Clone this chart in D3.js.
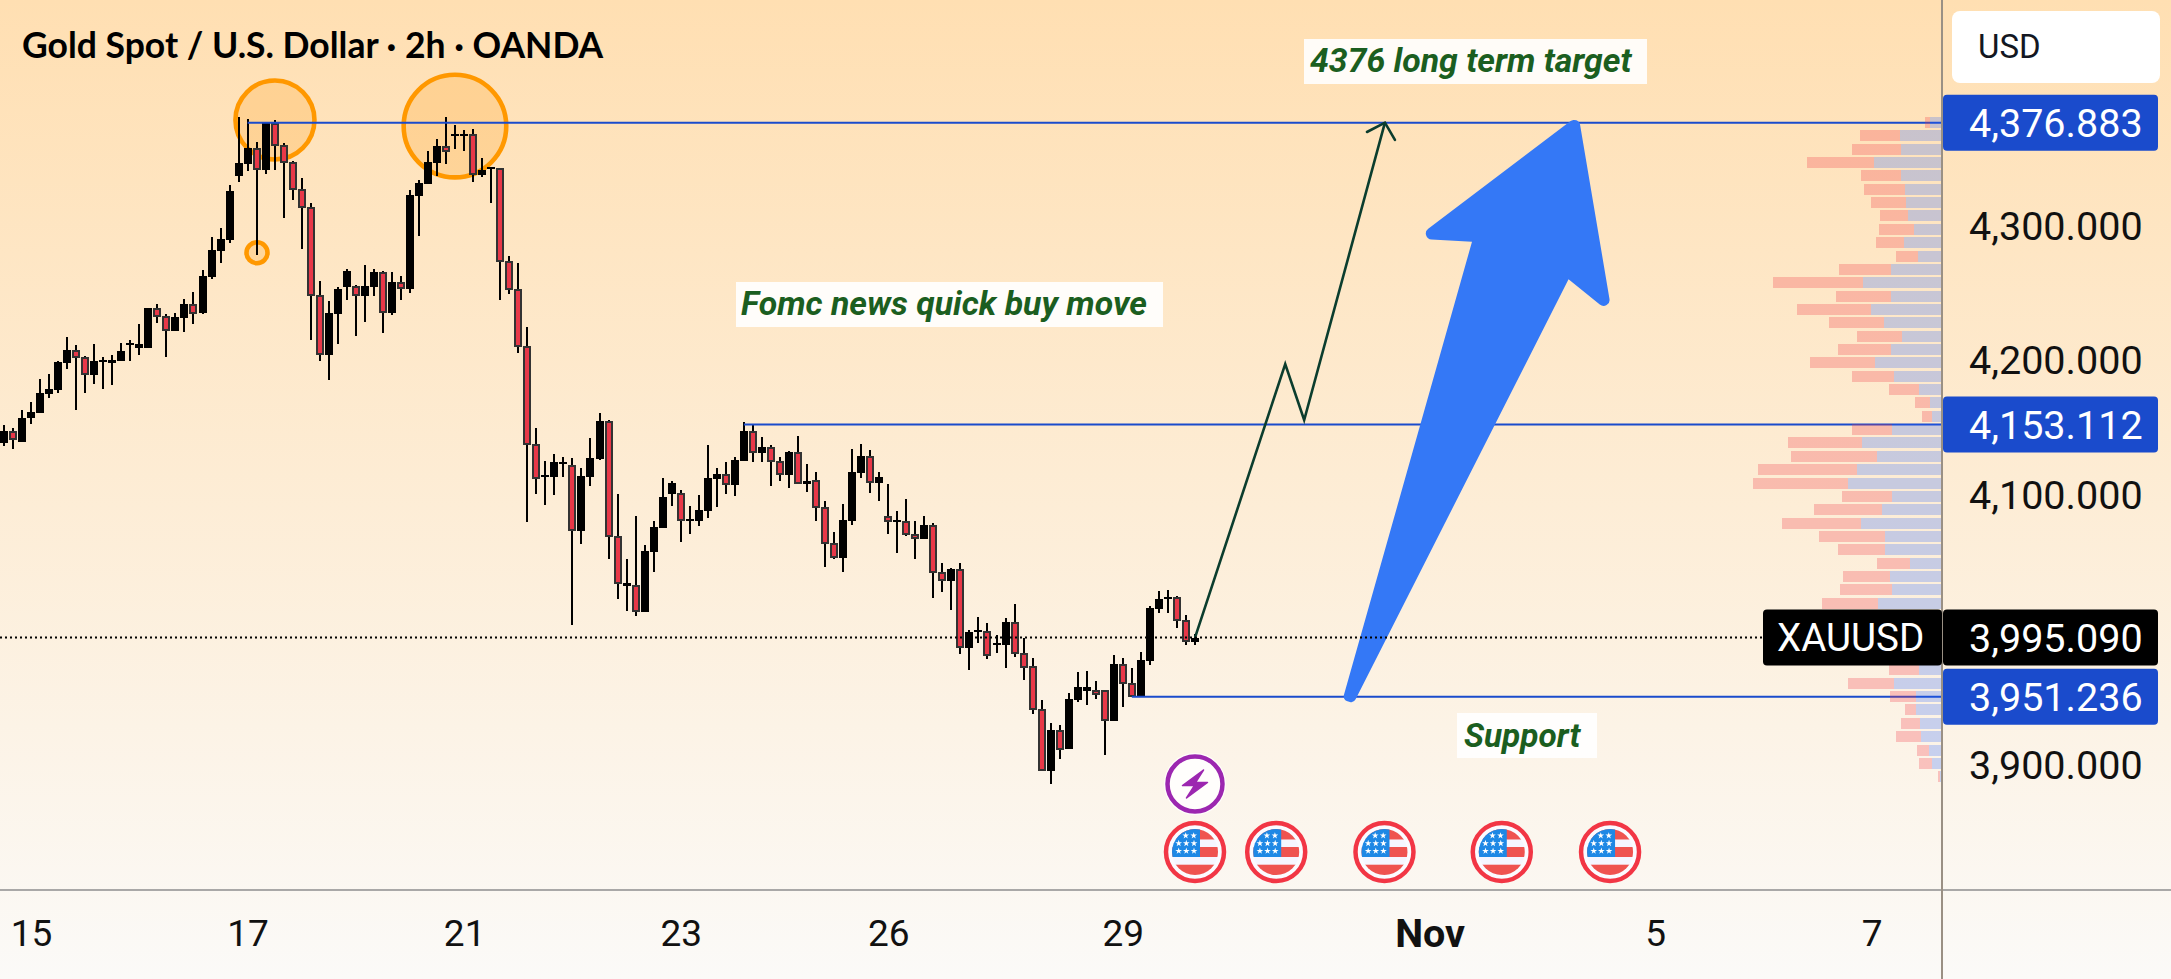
<!DOCTYPE html>
<html>
<head>
<meta charset="utf-8">
<title>XAUUSD 2h</title>
<script src="https://cdn.jsdelivr.net/npm/d3@7"></script>
<style>
    html, body { margin: 0; padding: 0; background: #fbfaf8; overflow: hidden; }
    text { font-family: Roboto, sans-serif; }
</style>
</head>
<body>
<div id="chart"></div>
<script>
// candles
const opens = [
    4139.4,4148.3,4140.1,4157.9,4161.6,4175.7,4178.7,4198.7,4208.3,4203.1,
    4189.8,4199.4,4198.7,4200.2,4212.0,4209.8,4209.8,4239.5,4233.6,4222.4,
    4232.1,4242.5,4235.8,4262.5,4281.7,4289.9,4337.4,4346.3,4358.1,4341.8,
    4376.7,4360.3,4347.8,4327.7,4314.4,4249.1,4204.6,4235.0,4255.1,4255.8,
    4248.4,4255.1,4266.2,4235.8,4258.8,4253.6,4322.5,4331.4,4347.0,4359.6,
    4367.0,4367.4,4368.5,4338.1,4342.5,4343.3,4274.3,4253.6,4211.3,4138.6,
    4114.2,4114.2,4123.8,4123.1,4074.1,4114.2,4127.5,4155.7,4070.4,4033.3,
    4034.1,4014.1,4058.6,4076.4,4101.6,4102.3,4081.5,4081.5,4088.9,4112.7,
    4116.4,4108.2,4126.0,4148.3,4132.0,4136.4,4126.0,4115.6,4132.7,4109.0,
    4111.9,4091.9,4065.2,4054.1,4081.5,4117.1,4129.7,4109.7,4085.3,4080.8,
    4081.5,4071.9,4068.2,4078.6,4043.7,4037.1,4045.9,3987.4,3999.2,4000.0,
    3989.6,3989.6,4006.6,3983.7,3974.0,3942.1,3896.2,3926.6,3912.5,3948.8,
    3955.5,3956.2,3956.2,3933.2,3975.5,3961.4,3951.0,3977.7,4016.3,4023.7,
    4025.2,4008.1,3991.8
];
const closes = [
    4148.3,4141.6,4157.9,4162.4,4176.5,4179.4,4199.4,4208.3,4202.4,4189.8,
    4200.2,4200.9,4200.9,4207.6,4213.5,4212.8,4239.5,4232.8,4222.4,4232.8,
    4242.5,4235.0,4263.2,4282.5,4290.6,4326.2,4347.0,4358.1,4341.8,4376.7,
    4359.6,4347.0,4327.0,4313.6,4248.4,4204.6,4235.8,4253.6,4266.9,4248.4,
    4255.8,4266.2,4235.8,4258.8,4253.6,4323.3,4332.2,4347.8,4359.6,4355.2,
    4368.5,4368.5,4338.1,4341.8,4344.0,4273.6,4252.8,4210.6,4137.9,4112.7,
    4115.6,4125.3,4125.3,4074.1,4114.9,4128.3,4155.7,4069.7,4034.8,4035.6,
    4014.1,4059.3,4077.1,4099.3,4109.7,4081.5,4083.0,4089.7,4113.4,4116.4,
    4108.2,4126.8,4148.3,4132.0,4136.4,4125.3,4115.6,4132.7,4109.0,4111.2,
    4091.2,4064.5,4054.1,4082.3,4117.9,4129.7,4109.7,4114.2,4080.8,4082.3,
    4071.2,4068.2,4078.6,4043.0,4037.1,4045.9,3987.4,3999.2,4000.7,3981.4,
    3991.1,4006.6,3982.9,3972.5,3941.4,3896.2,3926.6,3911.7,3949.6,3958.5,
    3958.5,3952.5,3933.2,3975.5,3960.7,3951.0,3978.5,4017.0,4023.7,4025.2,
    4007.4,3991.8,3995.1
];
const highs = [
    4152.7,4150.5,4163.9,4169.8,4186.8,4190.5,4200.2,4218.0,4212.0,4203.9,
    4212.8,4203.1,4204.6,4213.5,4215.7,4227.6,4239.5,4242.5,4235.0,4235.8,
    4246.2,4251.3,4267.7,4292.1,4298.8,4330.7,4381.1,4379.6,4362.6,4377.4,
    4378.9,4361.8,4348.5,4335.9,4317.3,4259.5,4244.7,4255.1,4268.4,4256.5,
    4271.4,4268.4,4266.9,4266.2,4263.2,4327.0,4334.4,4355.9,4364.8,4381.1,
    4375.2,4371.5,4372.2,4350.7,4344.0,4343.3,4278.0,4272.9,4225.4,4150.5,
    4126.0,4131.2,4129.0,4128.3,4120.8,4143.1,4161.6,4156.4,4101.6,4053.4,
    4085.3,4063.7,4081.5,4113.4,4111.2,4104.5,4092.7,4100.8,4137.9,4120.8,
    4125.3,4129.0,4155.0,4152.7,4143.8,4137.9,4129.0,4133.4,4144.6,4123.8,
    4117.9,4096.4,4073.4,4094.1,4134.9,4138.6,4134.2,4117.9,4109.0,4088.9,
    4097.9,4081.5,4085.3,4080.1,4050.4,4046.7,4050.4,4000.7,4010.4,4005.9,
    3997.0,4009.6,4020.0,3994.8,3980.0,3948.8,3931.8,3930.3,3954.0,3969.6,
    3970.3,3962.9,3956.2,3982.2,3980.0,3972.5,3984.4,4018.5,4029.6,4030.4,
    4025.9,4011.8,3997.8
];
const lows = [
    4137.2,4134.9,4140.1,4153.5,4161.6,4172.8,4176.5,4194.2,4163.9,4176.5,
    4183.1,4179.4,4182.4,4200.2,4200.2,4204.6,4209.8,4228.4,4203.1,4222.4,
    4221.7,4227.6,4235.0,4261.0,4272.9,4287.7,4332.9,4341.1,4278.8,4338.9,
    4341.8,4306.2,4319.6,4283.2,4215.7,4200.2,4186.1,4212.8,4245.4,4218.7,
    4229.1,4248.4,4220.9,4234.3,4245.4,4250.6,4292.9,4331.4,4337.4,4346.3,
    4357.4,4355.9,4332.9,4336.6,4317.3,4245.4,4249.9,4206.1,4080.8,4101.6,
    4093.4,4100.8,4114.2,4004.4,4064.5,4107.5,4126.8,4053.4,4023.7,4014.8,
    4011.1,4014.1,4043.7,4076.4,4092.7,4066.0,4071.9,4077.8,4083.8,4091.9,
    4101.6,4100.1,4126.0,4125.3,4125.3,4107.5,4111.2,4106.0,4109.0,4103.0,
    4081.5,4047.4,4053.4,4043.7,4078.6,4113.4,4102.3,4096.4,4071.9,4057.8,
    4070.4,4053.4,4068.2,4024.4,4028.9,4015.5,3982.9,3971.1,3991.1,3979.2,
    3983.7,3972.5,3980.7,3963.6,3938.4,3896.2,3886.5,3905.1,3912.5,3947.3,
    3945.1,3949.6,3908.0,3933.2,3943.6,3951.0,3951.0,3974.8,4013.3,4013.3,
    4002.2,3989.6,3989.6
];

// horizontal levels and the last price
const levelPrices = [4376.883, 4153.112, 3951.236];
const levelStart = [27, 82, 125];
const lastPrice = 3995.09;
const symbolName = "XAUUSD";

// axis ticks
const priceTicks = [4300, 4200, 4100, 3900];
const timeTicks = [3, 27, 51, 75, 98, 124, 158, 183, 207];
const timeLabels = ["15", "17", "21", "23", "26", "29", "Nov", "5", "7"];

// volume profile on the right
const profilePrices = [
    4377.0,4367.1,4357.2,4347.3,4337.4,4327.5,4317.6,4307.7,4297.8,4287.9,
    4278.0,4268.1,4258.2,4248.3,4238.4,4228.5,4218.6,4208.7,4198.8,4188.9,
    4179.0,4169.1,4159.2,4149.3,4139.4,4129.5,4119.6,4109.7,4099.8,4089.9,
    4080.0,4070.1,4060.2,4050.3,4040.4,4030.5,4020.6,4010.7,4000.8,3990.9,
    3981.0,3971.1,3961.2,3951.3,3941.4,3931.5,3921.6,3911.7,3901.8,3891.9
];
const profileBuy = [
    11,41,40,67,40,36,35,33,27,37,23,50,78,50,70,57,39,50,66,47,
    22,11,9,49,79,64,84,93,49,59,80,56,56,31,51,49,63,45,40,40,
    30,22,47,25,25,21,20,12,9,1
];
const profileSell = [
    5,40,49,67,40,41,35,28,35,28,22,52,90,55,74,55,45,53,65,42,
    30,15,10,40,74,86,99,95,50,68,79,66,47,33,47,52,56,40,35,30,
    25,30,46,26,11,19,25,12,13,2
];

// drawings, as [candle index, price]
const circlePoints = [[30.03, 4378.9], [49.98, 4374.4], [28.04, 4280.4]];
const circleRadius = [39.5, 51.3, 10.5];
const pathPoints = [[132, 3995.1], [142, 4197.9], [144.1, 4156.4], [153.05, 4376.9]];
const pathHead = [[151.06, 4370.0], [153.05, 4376.9], [154.16, 4364.1]];
const bigArrow = [
    [148.35, 3948.8], [149.6, 3946.6], [173.4, 4260.8], [178.23, 4234.6],
    [174.5, 4382.5], [156.4, 4290.9], [162.7, 4288.6]
];
const bigArrowRadius = [5, 5, 0, 6, 6, 6, 0];

// event markers under the candles
const flagEvents = [132, 141, 153, 166, 178];
const flashEvent = 132;

const width = 2171;
const height = 979;
const axisX = 1942;
const axisY = 890;

// set the ranges
let x = d3.scaleLinear().domain([0, 132]).range([4, 1195]);
let y = d3.scaleLinear().domain([levelPrices[0], levelPrices[2]]).range([122.7, 696.7]);
let vol = d3.scaleLinear().domain([0, 188]).range([0, 188]);

let svg = d3.select("#chart").append("svg")
    .attr("width", width)
    .attr("height", height)
    .style("display", "block");

let defs = svg.append("defs");
let grad = defs.append("linearGradient")
    .attr("id", "bg")
    .attr("x1", 0).attr("y1", 0).attr("x2", 0).attr("y2", 1);
grad.append("stop").attr("offset", "0%").attr("stop-color", "#ffdfb2");
grad.append("stop").attr("offset", "100%").attr("stop-color", "#fbfaf8");

defs.append("clipPath").attr("id", "plot")
    .append("rect").attr("width", axisX).attr("height", axisY);
defs.append("clipPath").attr("id", "flagClip")
    .append("circle").attr("r", 23);

svg.append("rect").attr("width", width).attr("height", height).attr("fill", "url(#bg)");

let plot = svg.append("g").attr("clip-path", "url(#plot)");

// orange circles sit behind the candles
plot.selectAll(".mark-circle")
    .data(circlePoints)
    .enter().append("circle")
    .attr("class", "mark-circle")
    .attr("cx", d => x(d[0]))
    .attr("cy", d => y(d[1]))
    .attr("r", (d, i) => circleRadius[i])
    .attr("fill", "rgba(255,152,0,0.2)")
    .attr("stroke", "#ff9800")
    .attr("stroke-width", 4.6);

// candles
let candles = plot.selectAll(".candle")
    .data(opens.map((o, i) => ({ i: i, o: o, c: closes[i], h: highs[i], l: lows[i] })))
    .enter().append("g")
    .attr("class", "candle")
    .attr("shape-rendering", "crispEdges");

candles.append("rect")
    .attr("x", d => Math.round(x(d.i)) - 1)
    .attr("width", 2)
    .attr("y", d => y(d.h))
    .attr("height", d => y(d.l) - y(d.h))
    .attr("fill", "#000");

candles.filter(d => d.c >= d.o).append("rect")
    .attr("x", d => Math.round(x(d.i)) - 4)
    .attr("width", 8)
    .attr("y", d => y(d.c))
    .attr("height", d => Math.max(2, y(d.o) - y(d.c)))
    .attr("fill", "#000");

candles.filter(d => d.c < d.o).append("rect")
    .attr("x", d => Math.round(x(d.i)) - 3)
    .attr("width", 6)
    .attr("y", d => y(d.o) + 1)
    .attr("height", d => Math.max(1, y(d.c) - y(d.o) - 2))
    .attr("fill", "#e83848")
    .attr("stroke", "#333")
    .attr("stroke-width", 2);

// support / resistance levels
plot.selectAll(".level")
    .data(levelPrices)
    .enter().append("line")
    .attr("class", "level")
    .attr("x1", (d, i) => x(levelStart[i]))
    .attr("x2", axisX)
    .attr("y1", d => y(d))
    .attr("y2", d => y(d))
    .attr("stroke", "#1a4bcc")
    .attr("stroke-width", 2);

// volume profile
let rows = plot.selectAll(".profile")
    .data(profilePrices.map((p, i) => ({ p: p, buy: profileBuy[i], sell: profileSell[i] })))
    .enter().append("g")
    .attr("class", "profile")
    .attr("shape-rendering", "crispEdges");
rows.append("rect")
    .attr("x", d => axisX - 1 - vol(d.buy))
    .attr("width", d => vol(d.buy))
    .attr("y", d => y(d.p) - 5.5)
    .attr("height", 11)
    .attr("fill", "rgba(41,98,255,0.25)");
rows.append("rect")
    .attr("x", d => axisX - 1 - vol(d.buy) - vol(d.sell))
    .attr("width", d => vol(d.sell))
    .attr("y", d => y(d.p) - 5.5)
    .attr("height", 11)
    .attr("fill", "rgba(242,54,69,0.27)");

// big blue arrow, corners rounded with arcTo
let arrowPts = bigArrow.map(d => [x(d[0]), y(d[1])]);
let ap = d3.path();
let startX = (arrowPts[6][0] + arrowPts[0][0]) / 2;
let startY = (arrowPts[6][1] + arrowPts[0][1]) / 2;
ap.moveTo(startX, startY);
arrowPts.forEach((p, i) => {
    let next = i < arrowPts.length - 1 ? arrowPts[i + 1] : [startX, startY];
    if (bigArrowRadius[i] > 0) {
        ap.arcTo(p[0], p[1], next[0], next[1], bigArrowRadius[i]);
    } else {
        ap.lineTo(p[0], p[1]);
    }
});
ap.closePath();
plot.append("path").attr("d", ap.toString()).attr("fill", "#3478f6");

// thin projected path
let pathLine = d3.line().x(d => x(d[0])).y(d => y(d[1]));
plot.append("path")
    .attr("d", pathLine(pathPoints))
    .attr("fill", "none")
    .attr("stroke", "#0b3d2e")
    .attr("stroke-width", 2.6);
plot.append("path")
    .attr("d", pathLine(pathHead))
    .attr("fill", "none")
    .attr("stroke", "#0b3d2e")
    .attr("stroke-width", 2.6)
    .attr("stroke-linecap", "round");

// text notes with a white box behind them
function note(txt, boxX, boxY, boxW, boxH, textX, baseline, size) {
    svg.append("rect")
        .attr("x", boxX).attr("y", boxY).attr("width", boxW).attr("height", boxH)
        .attr("fill", "rgba(255,255,255,0.9)");
    svg.append("text")
        .attr("x", textX).attr("y", baseline)
        .attr("font-size", size)
        .attr("font-weight", 700)
        .attr("font-style", "italic")
        .attr("fill", "#1b5e20")
        .text(txt);
}
note("4376 long term target", 1304, 39, 343, 45, 1310, 72.3, 33.8);
note("Fomc news quick buy move", 736, 282, 427, 45, 741, 315, 33.8);
note("Support", 1457, 713, 140, 45, 1464, 746.7, 33.4);

// title
svg.append("text")
    .attr("x", 22).attr("y", 58)
    .attr("font-size", 35.5)
    .attr("font-weight", 700)
    .style("font-family", "Lato, sans-serif")
    .attr("fill", "#000")
    .text("Gold Spot / U.S. Dollar \u00b7 2h \u00b7 OANDA");

// flash event
let flash = svg.append("g").attr("transform", "translate(" + x(flashEvent) + ",784)");
flash.append("circle").attr("r", 31).attr("fill", "rgba(255,255,255,0.85)");
flash.append("circle").attr("r", 27.5).attr("fill", "none").attr("stroke", "#9c27b0").attr("stroke-width", 4.5);
flash.append("path")
    .attr("d", "M8.5,-14 L-12.5,1.5 L-0.5,1.5 L-8.5,14 L12.5,-1.5 L0.5,-1.5 Z")
    .attr("fill", "#9c27b0")
    .attr("stroke", "#9c27b0")
    .attr("stroke-width", 1.5)
    .attr("stroke-linejoin", "round");

// US flag events
const flagStripes = [[-23, 10.7, "#ef5350"], [-12.3, 7.3, "#f5f6ff"], [-5, 10, "#ef5350"], [5, 7.7, "#f5f6ff"], [12.7, 10.3, "#ef5350"]];
const flagStars = [[-9.3, -16.3], [-1.3, -16.3], [-16.3, -8.7], [-8.7, -8.7], [-1, -8.7], [-16.3, -1], [-8.7, -1], [-1, -1]];
let flags = svg.selectAll(".flag")
    .data(flagEvents)
    .enter().append("g")
    .attr("class", "flag")
    .attr("transform", d => "translate(" + x(d) + ",852)");
flags.append("circle").attr("r", 29).attr("fill", "#fbfbff").attr("stroke", "#f23645").attr("stroke-width", 4.5);
let flagInner = flags.append("g").attr("clip-path", "url(#flagClip)");
flagStripes.forEach(s => {
    flagInner.append("rect").attr("x", -24).attr("y", s[0]).attr("width", 48).attr("height", s[1]).attr("fill", s[2]);
});
flagInner.append("rect").attr("x", -24).attr("y", -24).attr("width", 29).attr("height", 29).attr("fill", "#1e88e5");
flagStars.forEach(s => {
    flagInner.append("path")
        .attr("d", d3.symbol(d3.symbolStar, 14)())
        .attr("transform", "translate(" + s[0] + "," + s[1] + ")")
        .attr("fill", "#fff");
});

// add the price axis
let yAxis = svg.append("g")
    .attr("transform", "translate(" + axisX + ",0)")
    .call(d3.axisRight(y).tickValues(priceTicks).tickSize(0).tickPadding(27).tickFormat(d3.format(",.3f")));
yAxis.select(".domain").remove();
yAxis.selectAll("text")
    .attr("font-size", 39.5)
    .attr("fill", "#111")
    .style("font-family", "Roboto, sans-serif");

// add the time axis
let xAxis = svg.append("g")
    .attr("transform", "translate(0,933)")
    .call(d3.axisBottom(x).tickValues(timeTicks).tickSize(0).tickPadding(0)
        .tickFormat((d, i) => timeLabels[i]));
xAxis.select(".domain").remove();
xAxis.selectAll("text")
    .attr("y", 0)
    .attr("dy", "0.36em")
    .attr("font-size", (d, i) => timeLabels[i] === "Nov" ? 39.5 : 37)
    .attr("font-weight", (d, i) => timeLabels[i] === "Nov" ? 700 : 400)
    .attr("fill", "#111")
    .style("font-family", "Roboto, sans-serif");

// axis borders
svg.append("line").attr("x1", 0).attr("x2", width).attr("y1", axisY).attr("y2", axisY)
    .attr("stroke", "#8e8e8e").attr("stroke-width", 1.6);
svg.append("line").attr("x1", axisX).attr("x2", axisX).attr("y1", 0).attr("y2", height)
    .attr("stroke", "#9a9084").attr("stroke-width", 2);

// dotted last price line goes over everything in the plot
svg.append("line")
    .attr("x1", 0).attr("x2", 1763)
    .attr("y1", y(lastPrice)).attr("y2", y(lastPrice))
    .attr("stroke", "#000")
    .attr("stroke-width", 2)
    .attr("stroke-dasharray", "2 3");

// price labels
function priceLabel(p, fill) {
    svg.append("rect")
        .attr("x", axisX + 1).attr("y", y(p) - 28)
        .attr("width", 215).attr("height", 56)
        .attr("rx", 4)
        .attr("fill", fill);
    svg.append("text")
        .attr("x", axisX + 27).attr("y", y(p))
        .attr("dy", "0.36em")
        .attr("font-size", 39.5)
        .attr("fill", "#fff")
        .text(d3.format(",.3f")(p));
}
levelPrices.forEach(p => priceLabel(p, "#1a4bcc"));
priceLabel(lastPrice, "#000");

svg.append("rect")
    .attr("x", 1763).attr("y", y(lastPrice) - 28)
    .attr("width", 179).attr("height", 56)
    .attr("rx", 4)
    .attr("fill", "#000");
svg.append("text")
    .attr("x", 1777).attr("y", y(lastPrice))
    .attr("dy", "0.36em")
    .attr("font-size", 38.6)
    .attr("fill", "#fff")
    .text(symbolName);

// currency button
svg.append("rect")
    .attr("x", 1952).attr("y", 11)
    .attr("width", 208).attr("height", 72)
    .attr("rx", 8)
    .attr("fill", "#fff");
svg.append("text")
    .attr("x", 1978).attr("y", 46)
    .attr("dy", "0.36em")
    .attr("font-size", 33)
    .attr("fill", "#131722")
    .text("USD");
</script>
</body>
</html>
